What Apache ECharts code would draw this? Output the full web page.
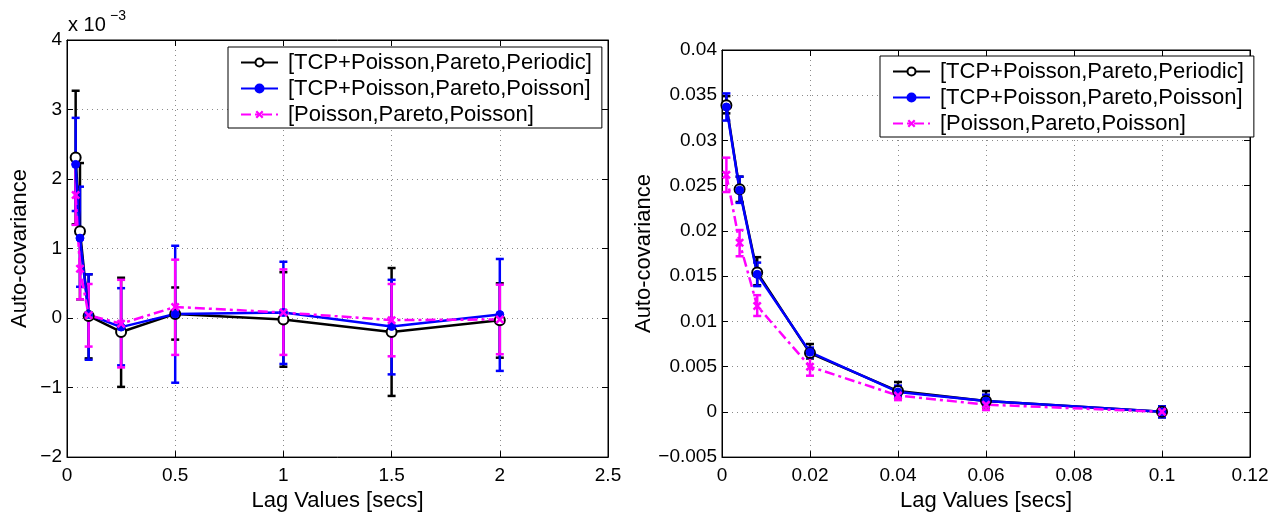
<!DOCTYPE html>
<html>
<head>
<meta charset="utf-8">
<script src="https://cdn.jsdelivr.net/npm/echarts@6/dist/echarts.min.js"></script>
<style>
html,body{margin:0;padding:0;background:#fff;}
#c{width:1278px;height:517px;}
</style>
</head>
<body>
<div id="c"></div>
<script>
// ---- Series names ----
const seriesNames = ['[TCP+Poisson,Pareto,Periodic]', '[TCP+Poisson,Pareto,Poisson]', '[Poisson,Pareto,Poisson]'];

// ---- Left panel (values in units of 1e-3) ----
const lagLeft = [0.04, 0.06, 0.1, 0.25, 0.5, 1, 1.5, 2];
const leftPeriodic      = [2.31, 1.25, 0.03, -0.20, 0.06, -0.02, -0.20, -0.03];
const leftPeriodicLow   = [1.35, 0.27, -0.58, -0.99, -0.31, -0.70, -1.12, -0.57];
const leftPeriodicHigh  = [3.27, 2.23, 0.63, 0.58, 0.44, 0.66, 0.72, 0.50];
const leftTcpPoisson     = [2.21, 1.15, 0.05, -0.13, 0.06, 0.08, -0.12, 0.05];
const leftTcpPoissonLow  = [1.54, 0.45, -0.60, -0.68, -0.93, -0.66, -0.81, -0.76];
const leftTcpPoissonHigh = [2.88, 1.89, 0.63, 0.43, 1.04, 0.81, 0.55, 0.85];
const leftPoisson     = [1.77, 0.71, 0.04, -0.08, 0.16, 0.08, -0.03, -0.02];
const leftPoissonLow  = [1.34, 0.27, -0.41, -0.71, -0.53, -0.53, -0.55, -0.52];
const leftPoissonHigh = [2.22, 1.13, 0.49, 0.55, 0.84, 0.70, 0.49, 0.48];

// ---- Right panel ----
const lagRight = [0.001, 0.004, 0.008, 0.02, 0.04, 0.06, 0.1];
const rightPeriodic      = [0.0339, 0.0246, 0.0154, 0.0065, 0.0023, 0.0012, 0.0000];
const rightPeriodicLow   = [0.0330, 0.0232, 0.0140, 0.0059, 0.0016, 0.0005, -0.0006];
const rightPeriodicHigh  = [0.0349, 0.0260, 0.0171, 0.0075, 0.0033, 0.0023, 0.0006];
const rightTcpPoisson     = [0.0337, 0.0245, 0.0152, 0.0066, 0.0022, 0.0012, 0.0000];
const rightTcpPoissonLow  = [0.0322, 0.0231, 0.0139, 0.0060, 0.0017, 0.0006, -0.0006];
const rightTcpPoissonHigh = [0.0352, 0.0260, 0.0165, 0.0071, 0.0029, 0.0019, 0.0006];
const rightPoisson     = [0.0262, 0.0187, 0.0117, 0.0050, 0.0018, 0.0008, 0.0000];
const rightPoissonLow  = [0.0243, 0.0172, 0.0106, 0.0040, 0.0013, 0.0002, -0.0004];
const rightPoissonHigh = [0.0281, 0.0201, 0.0129, 0.0061, 0.0022, 0.0013, 0.0004];

// ---- Axis settings ----
const leftXTicks = {min: 0, max: 2.5, interval: 0.5};
const leftYTicks = {min: -2, max: 4, interval: 1};
const rightXTicks = {min: 0, max: 0.12, interval: 0.02};
const rightYTicks = {min: -0.005, max: 0.04, interval: 0.005};

const FONT = "'Liberation Sans', Arial, Helvetica, sans-serif";
const colors = ['#000000', '#0000ff', '#ff00ff'];
const xPath = 'path://M2,0 L5,3 L8,0 L10,2 L7,5 L10,8 L8,10 L5,7 L2,10 L0,8 L3,5 L0,2 Z';
const LW = 2.5;

function fmt(v) {
  const s = String(parseFloat(Number(v).toFixed(6)));
  return s.replace('-', '\u2212');
}

function zip(x, a, b) { return x.map((v, i) => [v, a[i], b[i]]); }
function pairs(x, a) { return x.map((v, i) => [v, a[i]]); }

function xAxes(gridIndex, t, name, nameGap) {
  return [{
    type: 'value', gridIndex, position: 'bottom', min: t.min, max: t.max, interval: t.interval,
    name, nameLocation: 'middle', nameGap,
    nameTextStyle: {fontFamily: FONT, fontSize: 22, color: '#000'},
    axisLine: {show: true, onZero: false, lineStyle: {color: '#000', width: 1}},
    axisTick: {show: true, inside: true, length: 6, lineStyle: {color: '#000'}},
    axisLabel: {fontFamily: FONT, fontSize: 19, color: '#000', margin: 9, formatter: fmt},
    splitLine: {show: true, lineStyle: {color: '#8a8a8a', type: [1, 4], width: 1}}
  }, {
    type: 'value', gridIndex, position: 'top', min: t.min, max: t.max, interval: t.interval,
    axisLine: {show: true, onZero: false, lineStyle: {color: '#000', width: 1}},
    axisTick: {show: true, inside: true, length: 6, lineStyle: {color: '#000'}},
    axisLabel: {show: false}, splitLine: {show: false}
  }];
}
function yAxes(gridIndex, t, name, nameGap) {
  return [{
    type: 'value', gridIndex, position: 'left', min: t.min, max: t.max, interval: t.interval,
    name, nameLocation: 'middle', nameGap,
    nameTextStyle: {fontFamily: FONT, fontSize: 22, color: '#000'},
    axisLine: {show: true, onZero: false, lineStyle: {color: '#000', width: 1}},
    axisTick: {show: true, inside: true, length: 6, lineStyle: {color: '#000'}},
    axisLabel: {fontFamily: FONT, fontSize: 19, color: '#000', margin: 5, formatter: fmt},
    splitLine: {show: true, lineStyle: {color: '#8a8a8a', type: [1, 4], width: 1}}
  }, {
    type: 'value', gridIndex, position: 'right', min: t.min, max: t.max, interval: t.interval,
    axisLine: {show: true, onZero: false, lineStyle: {color: '#000', width: 1}},
    axisTick: {show: true, inside: true, length: 6, lineStyle: {color: '#000'}},
    axisLabel: {show: false}, splitLine: {show: false}
  }];
}

function errSeries(name, data, color, xi, yi) {
  return {
    type: 'custom', name, xAxisIndex: xi, yAxisIndex: yi, data,
    encode: {x: 0, y: [1, 2]},
    clip: false, silent: true,
    renderItem: function (params, api) {
      const x = api.value(0);
      const lo = api.coord([x, api.value(1)]);
      const hi = api.coord([x, api.value(2)]);
      const w = 4;
      const st = {stroke: color, lineWidth: LW, fill: null};
      return {type: 'group', children: [
        {type: 'line', shape: {x1: lo[0], y1: lo[1], x2: hi[0], y2: hi[1]}, style: st},
        {type: 'line', shape: {x1: lo[0] - w, y1: lo[1], x2: lo[0] + w, y2: lo[1]}, style: st},
        {type: 'line', shape: {x1: hi[0] - w, y1: hi[1], x2: hi[0] + w, y2: hi[1]}, style: st}
      ]};
    }
  };
}

function lineSeries(idx, data, xi, yi) {
  const base = {
    type: 'line', name: seriesNames[idx], xAxisIndex: xi, yAxisIndex: yi, data,
    showAllSymbol: true, animation: false, silent: true,
    lineStyle: {color: colors[idx], width: LW}
  };
  if (idx === 0) {
    base.symbol = 'emptyCircle'; base.symbolSize = 10;
    base.itemStyle = {color: '#000', borderColor: '#000', borderWidth: 2.5};
  } else if (idx === 1) {
    base.symbol = 'circle'; base.symbolSize = 8;
    base.itemStyle = {color: '#0000ff', borderColor: '#0000ff', borderWidth: 1};
  } else {
    base.symbol = xPath; base.symbolSize = 9;
    base.itemStyle = {color: '#ff00ff', borderColor: '#ff00ff', borderWidth: 0};
    base.lineStyle.type = [10, 4, 3, 4];
  }
  return base;
}

function legend(left, top) {
  return {
    orient: 'vertical', left, top,
    data: seriesNames,
    backgroundColor: '#fff', borderColor: '#000', borderWidth: 1,
    padding: [4, 10, 2, 12], itemGap: 3, itemWidth: 37, itemHeight: 10,
    textStyle: {fontFamily: FONT, fontSize: 22, color: '#000', lineHeight: 23, padding: [0, 0, 0, 5]},
    selectedMode: false
  };
}

const chart = echarts.init(document.getElementById('c'), null, {renderer: 'canvas'});
chart.setOption({
  animation: false,
  backgroundColor: '#fff',
  grid: [
    {left: 67, top: 40, width: 541, height: 426, show: true, borderColor: '#000', borderWidth: 1, backgroundColor: '#fff'},
    {left: 722, top: 50, width: 528, height: 419, show: true, borderColor: '#000', borderWidth: 1, backgroundColor: '#fff'}
  ],
  xAxis: [].concat(xAxes(0, leftXTicks, 'Lag Values [secs]', 29), xAxes(1, rightXTicks, 'Lag Values [secs]', 26)),
  yAxis: [].concat(yAxes(0, leftYTicks, 'Auto-covariance', 36), yAxes(1, rightYTicks, 'Auto-covariance', 50)),
  legend: [legend(228, 47), legend(880, 56)],
  graphic: [
    {type: 'text', left: 68, top: 15, style: {text: 'x 10', font: '20px ' + FONT, fill: '#000'}},
    {type: 'text', left: 110, top: 9, style: {text: '\u22123', font: '14px ' + FONT, fill: '#000'}}
  ],
  series: [
    errSeries('e0L', zip(lagLeft, leftPeriodicLow, leftPeriodicHigh), colors[0], 0, 0),
    lineSeries(0, pairs(lagLeft, leftPeriodic), 0, 0),
    errSeries('e1L', zip(lagLeft, leftTcpPoissonLow, leftTcpPoissonHigh), colors[1], 0, 0),
    lineSeries(1, pairs(lagLeft, leftTcpPoisson), 0, 0),
    errSeries('e2L', zip(lagLeft, leftPoissonLow, leftPoissonHigh), colors[2], 0, 0),
    lineSeries(2, pairs(lagLeft, leftPoisson), 0, 0),
    errSeries('e0R', zip(lagRight, rightPeriodicLow, rightPeriodicHigh), colors[0], 2, 2),
    lineSeries(0, pairs(lagRight, rightPeriodic), 2, 2),
    errSeries('e1R', zip(lagRight, rightTcpPoissonLow, rightTcpPoissonHigh), colors[1], 2, 2),
    lineSeries(1, pairs(lagRight, rightTcpPoisson), 2, 2),
    errSeries('e2R', zip(lagRight, rightPoissonLow, rightPoissonHigh), colors[2], 2, 2),
    lineSeries(2, pairs(lagRight, rightPoisson), 2, 2)
  ]
});
</script>
</body>
</html>
